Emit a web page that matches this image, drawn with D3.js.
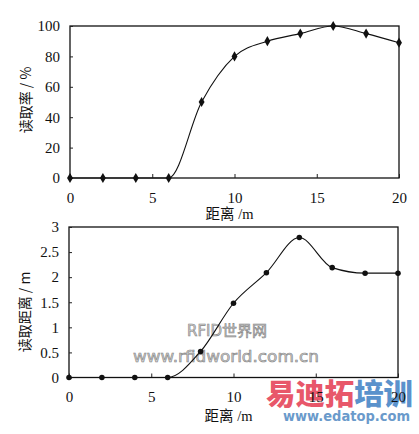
<!DOCTYPE html>
<html><head><meta charset="utf-8">
<script src="https://cdn.jsdelivr.net/npm/d3@7"></script>
<style>
html,body{margin:0;padding:0;background:#fff;}
svg{display:block;}
</style></head>
<body>
<script>
// ---- data ----
const distances = [0, 2, 4, 6, 8, 10, 12, 14, 16, 18, 20];
const readRate = [0, 0, 0, 0, 50, 80, 90, 95, 100, 95, 89];
const readDistance = [0, 0, 0, 0, 0.52, 1.48, 2.09, 2.79, 2.19, 2.08, 2.08];
const xTicks = [0, 5, 10, 15, 20];
const rateTicks = [0, 20, 40, 60, 80, 100];
const distTicks = [0, 0.5, 1, 1.5, 2, 2.5, 3];
const xLabelCn = "距离";
const xLabelUnit = " /m";
const rateLabel = "读取率 / %";
const distLabel = "读取距离 / m";

const SERIF = '"Liberation Serif", "Times New Roman", serif';
const CJK = '"Noto Sans CJK SC", sans-serif';

const W = 419, H = 434;
const svg = d3.select("body").append("svg").attr("width", W).attr("height", H);
svg.append("rect").attr("width", W).attr("height", H).attr("fill", "#fff");

// watermarks (drawn beneath the chart)
const wm = svg.append("g");
wm.append("text").attr("x", 227).attr("y", 336).attr("text-anchor", "middle")
  .style("font-family", "'DejaVu Sans','Noto Sans CJK SC',sans-serif").style("font-size", "15px")
  .attr("fill", "#cfcfcf").attr("stroke", "#858585").attr("stroke-width", 0.6)
  .text("RFID世界网");
wm.append("text").attr("x", 133).attr("y", 362).attr("textLength", 186).attr("lengthAdjust", "spacingAndGlyphs")
  .style("font-family", "'DejaVu Sans',sans-serif").style("font-size", "16px")
  .attr("fill", "#cfcfcf").attr("stroke", "#858585").attr("stroke-width", 0.6)
  .text("www.rfidworld.com.cn");
const ed = wm.append("text").attr("x", 266).attr("y", 405).attr("textLength", 147).attr("lengthAdjust", "spacingAndGlyphs")
  .style("font-family", "'Noto Sans CJK SC',sans-serif").style("font-size", "29px").attr("font-weight", 900);
ed.append("tspan").attr("fill", "#e8576a").text("易迪拓");
ed.append("tspan").attr("fill", "#5a92cc").text("培训");
wm.append("text").attr("x", 283).attr("y", 421).attr("textLength", 127).attr("lengthAdjust", "spacingAndGlyphs")
  .style("font-family", "'DejaVu Sans',sans-serif").style("font-size", "14px").attr("font-weight", "bold")
  .attr("fill", "#6a9acb").text("www.edatop.com");

function panel(cfg) {
  const x = d3.scaleLinear().domain([0, 20]).range([cfg.left, cfg.right]);
  const y = d3.scaleLinear().domain(cfg.yDomain).range([cfg.bottom, cfg.top]);
  const g = svg.append("g");

  // frame
  g.append("rect").attr("x", cfg.left).attr("y", cfg.top)
    .attr("width", cfg.right - cfg.left).attr("height", cfg.bottom - cfg.top)
    .attr("fill", "none").attr("stroke", "#111").attr("stroke-width", 1.3);

  // x axis
  const xa = g.append("g").attr("transform", `translate(0,${cfg.bottom})`)
    .call(d3.axisBottom(x).tickValues(xTicks).tickSizeInner(-4).tickSizeOuter(0).tickPadding(14).tickFormat(d3.format("d")));
  xa.select(".domain").remove();
  xa.selectAll("line").attr("stroke", "#222");
  xa.selectAll("text").style("font-family", SERIF).style("font-size", "15px").attr("fill", "#111");

  // y axis
  const ya = g.append("g").attr("transform", `translate(${cfg.left},0)`)
    .call(d3.axisLeft(y).tickValues(cfg.yTicks).tickSizeInner(-3).tickSizeOuter(0).tickPadding(10).tickFormat(d => String(d)));
  ya.select(".domain").remove();
  ya.selectAll("line").attr("stroke", "#222");
  ya.selectAll("text").style("font-family", SERIF).style("font-size", "15px").attr("fill", "#111");

  // line
  const pts = distances.map((d, i) => [d, cfg.values[i]]);
  g.append("path").datum(pts)
    .attr("d", d3.line().x(d => x(d[0])).y(d => y(d[1])).curve(d3.curveMonotoneX))
    .attr("fill", "none").attr("stroke", "#111").attr("stroke-width", 1.1);

  // markers
  g.selectAll(".m").data(pts).enter().append("path")
    .attr("transform", d => `translate(${x(d[0])},${y(d[1])})`)
    .attr("d", d3.symbol().type(cfg.symbol).size(cfg.symbolSize))
    .attr("fill", "#111");

  // x label
  const xl = g.append("text").attr("x", (cfg.left + cfg.right) / 2 - 5).attr("y", cfg.xLabelY)
    .attr("text-anchor", "middle").style("font-size", "14.5px").attr("fill", "#111");
  xl.append("tspan").style("font-family", CJK).text(xLabelCn);
  xl.append("tspan").style("font-family", SERIF).text(xLabelUnit);

  // y label
  g.append("text").attr("transform", `translate(${cfg.yLabelX},${cfg.yLabelY}) rotate(-90)`)
    .attr("text-anchor", "middle").style("font-size", "14px").attr("fill", "#111")
    .style("font-family", CJK).text(cfg.yLabel);
}

panel({left: 70, right: 399, top: 26, bottom: 178, yDomain: [0, 100], yTicks: rateTicks,
  values: readRate, symbol: d3.symbolDiamond, symbolSize: 30, xLabelY: 219, yLabelX: 31, yLabelY: 100, yLabel: rateLabel});
panel({left: 69, right: 398, top: 227, bottom: 377.5, yDomain: [0, 3], yTicks: distTicks,
  values: readDistance, symbol: d3.symbolCircle, symbolSize: 24, xLabelY: 421, yLabelX: 30, yLabelY: 312, yLabel: distLabel});
</script>
</body></html>
